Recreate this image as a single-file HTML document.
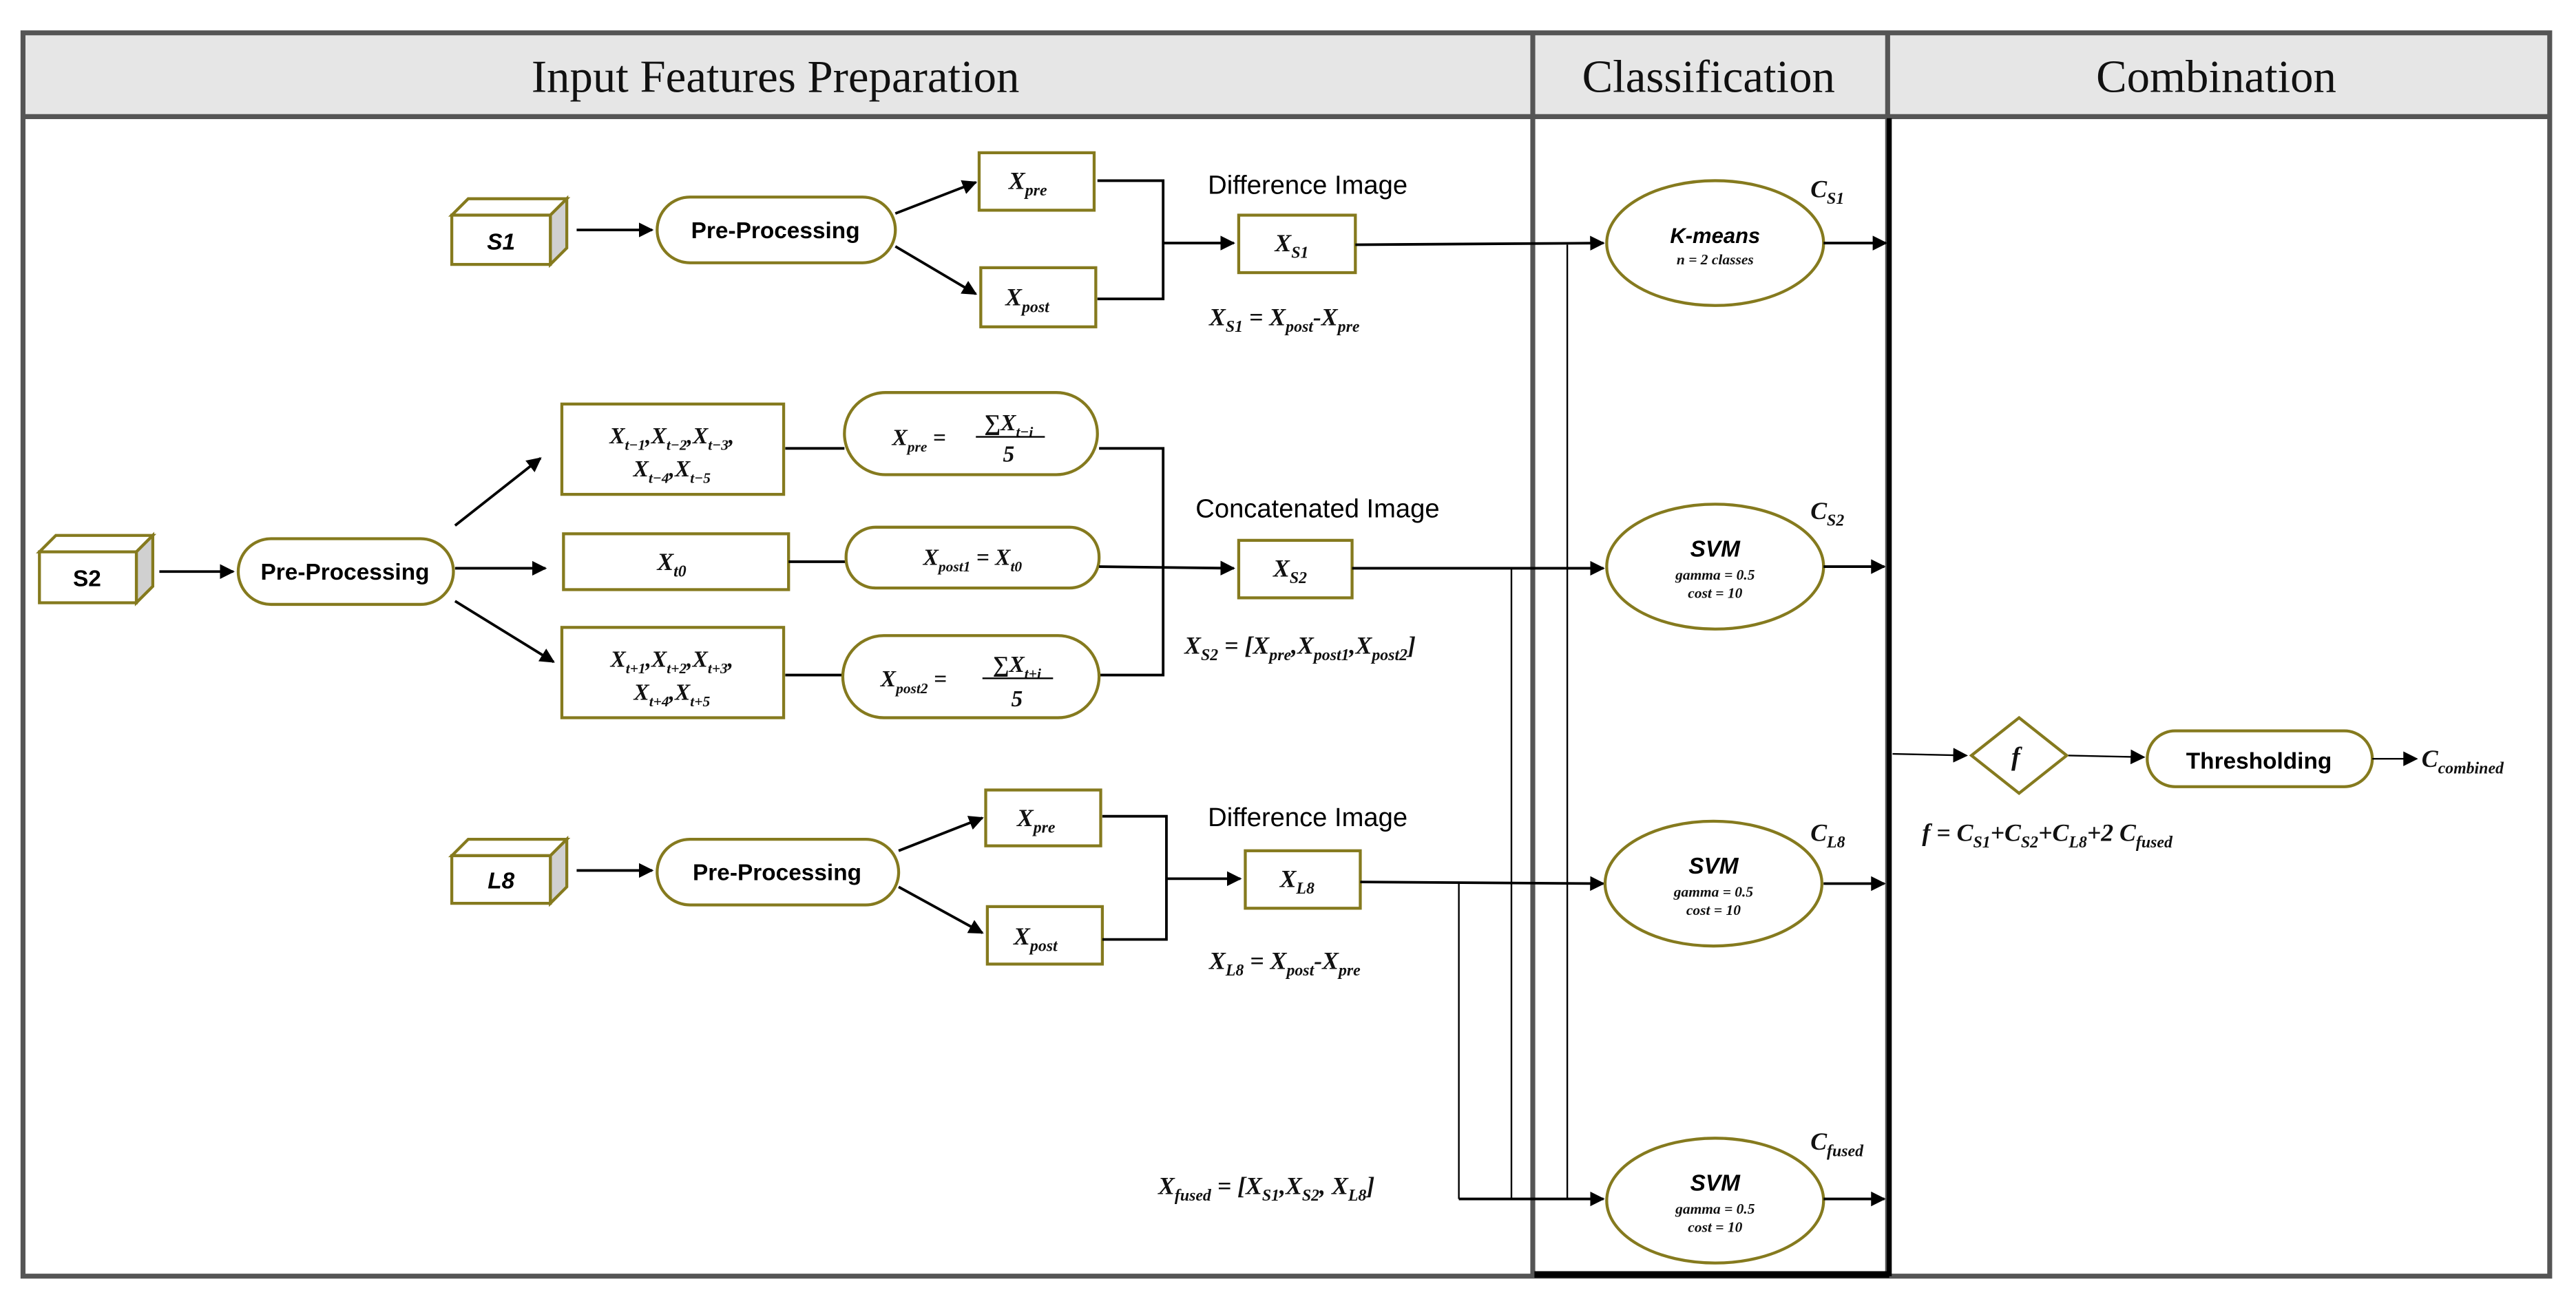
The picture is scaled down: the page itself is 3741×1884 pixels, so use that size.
<!DOCTYPE html>
<html><head><meta charset="utf-8"><style>
html,body{margin:0;padding:0;background:#fff;}
svg{display:block;}
.h{font-family:"Liberation Serif",serif;font-size:28px;fill:#111;}
.s{font-family:"Liberation Sans",sans-serif;}
.m{font-family:"Liberation Serif",serif;font-style:italic;font-weight:bold;fill:#111;}
.ol{fill:#fff;stroke:#857a1e;stroke-width:1.8;}
.ln{stroke:#000;stroke-width:1.6;fill:none;}
.thin{stroke:#000;stroke-width:1;fill:none;}
</style></head><body>
<svg width="3741" height="1884" viewBox="0 0 1568 789.7" preserveAspectRatio="none" xmlns="http://www.w3.org/2000/svg">
<defs>
<marker id="a" viewBox="0 0 10 10" refX="9" refY="5" markerWidth="6" markerHeight="6" orient="auto"><path d="M0,0 L10,5 L0,10 z" fill="#000"/></marker>
<marker id="b" viewBox="0 0 10 10" refX="9" refY="5" markerWidth="9" markerHeight="9" orient="auto" markerUnits="userSpaceOnUse"><path d="M0,0 L10,5 L0,10 z" fill="#000"/></marker>
</defs>
<rect x="14" y="20" width="1538" height="51" fill="#e6e6e6"/>
<rect x="14" y="20" width="1538" height="757" fill="none" stroke="#555" stroke-width="3"/>
<line x1="14" y1="71" x2="1552" y2="71" stroke="#555" stroke-width="3"/>
<line x1="933" y1="20" x2="933" y2="777" stroke="#555" stroke-width="3"/>
<line x1="1149" y1="20" x2="1149" y2="777" stroke="#555" stroke-width="3"/>
<line x1="1150" y1="72" x2="1150" y2="777" stroke="#000" stroke-width="3"/>
<line x1="934" y1="776" x2="1150" y2="776" stroke="#000" stroke-width="4"/>
<text class="h" x="472" y="56" text-anchor="middle">Input Features Preparation</text>
<text class="h" x="1040" y="56" text-anchor="middle">Classification</text>
<text class="h" x="1349" y="56" text-anchor="middle">Combination</text>

<g>
<path d="M275,131 L285,121 L345,121 L335,131 Z" class="ol"/>
<path d="M335,131 L345,121 L345,151 L335,161 Z" fill="#d0d0d0" stroke="#857a1e" stroke-width="1.8"/>
<rect x="275" y="131" width="60" height="30" class="ol"/>
<text class="s" x="305" y="152" font-size="14" font-weight="bold" font-style="italic" text-anchor="middle">S1</text>
</g>
<g>
<path d="M24,336 L34,326 L93,326 L83,336 Z" class="ol"/>
<path d="M83,336 L93,326 L93,357 L83,367 Z" fill="#d0d0d0" stroke="#857a1e" stroke-width="1.8"/>
<rect x="24" y="336" width="59" height="31" class="ol"/>
<text class="s" x="53" y="357" font-size="14" font-weight="bold" text-anchor="middle">S2</text>
</g>
<g>
<path d="M275,521 L285,511 L345,511 L335,521 Z" class="ol"/>
<path d="M335,521 L345,511 L345,540 L335,550 Z" fill="#d0d0d0" stroke="#857a1e" stroke-width="1.8"/>
<rect x="275" y="521" width="60" height="29" class="ol"/>
<text class="s" x="305" y="541" font-size="14" font-weight="bold" font-style="italic" text-anchor="middle">L8</text>
</g>

<line class="ln" x1="351" y1="140" x2="397" y2="140" marker-end="url(#b)"/>
<rect x="400" y="120" width="145" height="40" rx="20" class="ol"/>
<text class="s" x="472" y="145" font-size="14" font-weight="bold" text-anchor="middle">Pre-Processing</text>
<line class="ln" x1="545" y1="130" x2="594" y2="111" marker-end="url(#b)"/>
<line class="ln" x1="545" y1="150" x2="594" y2="179" marker-end="url(#b)"/>
<rect x="596" y="93" width="70" height="35" class="ol"/>
<text class="m" x="614" y="115" font-size="15">X<tspan font-size="10" dy="4">pre</tspan></text>
<rect x="597" y="163" width="70" height="36" class="ol"/>
<text class="m" x="612" y="186" font-size="15">X<tspan font-size="10" dy="4">post</tspan></text>
<path class="ln" d="M668,110 H708 V182 H668"/>
<line class="ln" x1="708" y1="148" x2="751" y2="148" marker-end="url(#b)"/>
<rect x="754" y="131" width="71" height="35" class="ol"/>
<text class="m" x="776" y="153" font-size="15">X<tspan font-size="10" dy="4">S1</tspan></text>
<text class="s" x="796" y="118" font-size="16" text-anchor="middle">Difference Image</text>
<text class="m" x="736" y="198" font-size="15">X<tspan font-size="10" dy="4">S1</tspan><tspan dy="-4"> = X</tspan><tspan font-size="10" dy="4">post</tspan><tspan dy="-4">-X</tspan><tspan font-size="10" dy="4">pre</tspan></text>

<line class="ln" x1="97" y1="348" x2="142" y2="348" marker-end="url(#b)"/>
<rect x="145" y="328" width="131" height="40" rx="20" class="ol"/>
<text class="s" x="210" y="353" font-size="14" font-weight="bold" text-anchor="middle">Pre-Processing</text>
<line class="ln" x1="277" y1="320" x2="329" y2="279" marker-end="url(#b)"/>
<line class="ln" x1="277" y1="346" x2="332" y2="346" marker-end="url(#b)"/>
<line class="ln" x1="277" y1="366" x2="337" y2="403" marker-end="url(#b)"/>
<rect x="342" y="246" width="135" height="55" class="ol"/>
<text class="m" x="409" y="270" font-size="14" text-anchor="middle">X<tspan font-size="9" dy="4">t−1</tspan><tspan dy="-4">,X</tspan><tspan font-size="9" dy="4">t−2</tspan><tspan dy="-4">,X</tspan><tspan font-size="9" dy="4">t−3</tspan><tspan dy="-4">,</tspan></text>
<text class="m" x="409" y="290" font-size="14" text-anchor="middle">X<tspan font-size="9" dy="4">t−4</tspan><tspan dy="-4">,X</tspan><tspan font-size="9" dy="4">t−5</tspan></text>
<line class="ln" x1="478" y1="273" x2="514" y2="273"/>
<rect x="514" y="239" width="154" height="50" rx="25" class="ol"/>
<text class="m" x="543" y="271" font-size="14">X<tspan font-size="9" dy="4">pre</tspan><tspan dy="-4"> =</tspan></text>
<text class="m" x="614" y="262" font-size="14" text-anchor="middle">∑X<tspan font-size="9" dy="4">t−i</tspan></text>
<line x1="594" y1="266" x2="636" y2="266" stroke="#000" stroke-width="1"/>
<text class="m" x="614" y="281" font-size="14" text-anchor="middle">5</text>
<path class="ln" d="M669,273 H708 V411 H669"/>

<rect x="343" y="325" width="137" height="34" class="ol"/>
<text class="m" x="400" y="347" font-size="15">X<tspan font-size="10" dy="4">t0</tspan></text>
<line class="ln" x1="480" y1="342" x2="515" y2="342"/>
<rect x="515" y="321" width="154" height="37" rx="18" class="ol"/>
<text class="m" x="592" y="344" font-size="14" text-anchor="middle">X<tspan font-size="9" dy="4">post1</tspan><tspan dy="-4"> = X</tspan><tspan font-size="9" dy="4">t0</tspan></text>
<line class="ln" x1="669" y1="345" x2="751" y2="346" marker-end="url(#b)"/>
<rect x="754" y="329" width="69" height="35" class="ol"/>
<text class="m" x="775" y="351" font-size="15">X<tspan font-size="10" dy="4">S2</tspan></text>
<text class="s" x="802" y="315" font-size="16" text-anchor="middle">Concatenated  Image</text>

<rect x="342" y="382" width="135" height="55" class="ol"/>
<text class="m" x="409" y="406" font-size="14" text-anchor="middle">X<tspan font-size="9" dy="4">t+1</tspan><tspan dy="-4">,X</tspan><tspan font-size="9" dy="4">t+2</tspan><tspan dy="-4">,X</tspan><tspan font-size="9" dy="4">t+3</tspan><tspan dy="-4">,</tspan></text>
<text class="m" x="409" y="426" font-size="14" text-anchor="middle">X<tspan font-size="9" dy="4">t+4</tspan><tspan dy="-4">,X</tspan><tspan font-size="9" dy="4">t+5</tspan></text>
<line class="ln" x1="478" y1="411" x2="513" y2="411"/>
<rect x="513" y="387" width="156" height="50" rx="25" class="ol"/>
<text class="m" x="536" y="418" font-size="14">X<tspan font-size="9" dy="4">post2</tspan><tspan dy="-4"> =</tspan></text>
<text class="m" x="619" y="409" font-size="14" text-anchor="middle">∑X<tspan font-size="9" dy="4">t+i</tspan></text>
<line x1="598" y1="413" x2="641" y2="413" stroke="#000" stroke-width="1"/>
<text class="m" x="619" y="430" font-size="14" text-anchor="middle">5</text>
<text class="m" x="721" y="398" font-size="15">X<tspan font-size="10" dy="4">S2</tspan><tspan dy="-4"> = [X</tspan><tspan font-size="10" dy="4">pre</tspan><tspan dy="-4">,X</tspan><tspan font-size="10" dy="4">post1</tspan><tspan dy="-4">,X</tspan><tspan font-size="10" dy="4">post2</tspan><tspan dy="-4">]</tspan></text>

<line class="ln" x1="351" y1="530" x2="397" y2="530" marker-end="url(#b)"/>
<rect x="400" y="511" width="147" height="40" rx="20" class="ol"/>
<text class="s" x="473" y="536" font-size="14" font-weight="bold" text-anchor="middle">Pre-Processing</text>
<line class="ln" x1="547" y1="518" x2="598" y2="498" marker-end="url(#b)"/>
<line class="ln" x1="547" y1="540" x2="598" y2="568" marker-end="url(#b)"/>
<rect x="600" y="481" width="70" height="34" class="ol"/>
<text class="m" x="619" y="503" font-size="15">X<tspan font-size="10" dy="4">pre</tspan></text>
<rect x="601" y="552" width="70" height="35" class="ol"/>
<text class="m" x="617" y="575" font-size="15">X<tspan font-size="10" dy="4">post</tspan></text>
<path class="ln" d="M671,497 H710 V572 H671"/>
<line class="ln" x1="710" y1="535" x2="755" y2="535" marker-end="url(#b)"/>
<rect x="758" y="518" width="70" height="35" class="ol"/>
<text class="m" x="779" y="540" font-size="15">X<tspan font-size="10" dy="4">L8</tspan></text>
<text class="s" x="796" y="503" font-size="16" text-anchor="middle">Difference Image</text>
<text class="m" x="736" y="590" font-size="15">X<tspan font-size="10" dy="4">L8</tspan><tspan dy="-4"> = X</tspan><tspan font-size="10" dy="4">post</tspan><tspan dy="-4">-X</tspan><tspan font-size="10" dy="4">pre</tspan></text>

<text class="m" x="705" y="727" font-size="15">X<tspan font-size="10" dy="4">fused</tspan><tspan dy="-4"> = [X</tspan><tspan font-size="10" dy="4">S1</tspan><tspan dy="-4">,X</tspan><tspan font-size="10" dy="4">S2</tspan><tspan dy="-4">, X</tspan><tspan font-size="10" dy="4">L8</tspan><tspan dy="-4">]</tspan></text>
<line class="thin" x1="954" y1="149" x2="954" y2="730"/>
<line class="thin" x1="920" y1="346" x2="920" y2="730"/>
<line class="thin" x1="888" y1="537" x2="888" y2="730"/>
<line class="ln" x1="888" y1="730" x2="976" y2="730" marker-end="url(#b)"/>

<line class="ln" x1="825" y1="149" x2="976" y2="148" marker-end="url(#b)"/>
<line class="ln" x1="823" y1="346" x2="976" y2="346" marker-end="url(#b)"/>
<line class="ln" x1="828" y1="537" x2="976" y2="538" marker-end="url(#b)"/>

<ellipse cx="1044" cy="148" rx="66" ry="38" class="ol"/>
<text class="s" x="1044" y="148" font-size="13" font-weight="bold" font-style="italic" text-anchor="middle">K-means</text>
<text class="m" x="1044" y="161" font-size="9" text-anchor="middle">n = 2 classes</text>
<ellipse cx="1044" cy="345" rx="66" ry="38" class="ol"/>
<text class="s" x="1044" y="339" font-size="14" font-weight="bold" font-style="italic" text-anchor="middle">SVM</text>
<text class="m" x="1044" y="353" font-size="9" text-anchor="middle">gamma = 0.5</text>
<text class="m" x="1044" y="364" font-size="9" text-anchor="middle">cost = 10</text>
<ellipse cx="1043" cy="538" rx="66" ry="38" class="ol"/>
<text class="s" x="1043" y="532" font-size="14" font-weight="bold" font-style="italic" text-anchor="middle">SVM</text>
<text class="m" x="1043" y="546" font-size="9" text-anchor="middle">gamma = 0.5</text>
<text class="m" x="1043" y="557" font-size="9" text-anchor="middle">cost = 10</text>
<ellipse cx="1044" cy="731" rx="66" ry="38" class="ol"/>
<text class="s" x="1044" y="725" font-size="14" font-weight="bold" font-style="italic" text-anchor="middle">SVM</text>
<text class="m" x="1044" y="739" font-size="9" text-anchor="middle">gamma = 0.5</text>
<text class="m" x="1044" y="750" font-size="9" text-anchor="middle">cost = 10</text>

<line class="ln" x1="1110" y1="148" x2="1148" y2="148" marker-end="url(#b)"/>
<line class="ln" x1="1110" y1="345" x2="1147" y2="345" marker-end="url(#b)"/>
<line class="ln" x1="1110" y1="538" x2="1147" y2="538" marker-end="url(#b)"/>
<line class="ln" x1="1110" y1="730" x2="1147" y2="730" marker-end="url(#b)"/>
<text class="m" x="1102" y="120" font-size="15">C<tspan font-size="10" dy="4">S1</tspan></text>
<text class="m" x="1102" y="316" font-size="15">C<tspan font-size="10" dy="4">S2</tspan></text>
<text class="m" x="1102" y="512" font-size="15">C<tspan font-size="10" dy="4">L8</tspan></text>
<text class="m" x="1102" y="700" font-size="15">C<tspan font-size="10" dy="4">fused</tspan></text>

<line class="thin" x1="1152" y1="459" x2="1197" y2="460" marker-end="url(#b)"/>
<path d="M1229,437 L1258,460 L1229,483 L1200,460 Z" class="ol"/>
<text class="m" x="1227" y="466" font-size="16" text-anchor="middle">f</text>
<line class="thin" x1="1259" y1="460" x2="1305" y2="461" marker-end="url(#b)"/>
<rect x="1307" y="445" width="137" height="34" rx="17" class="ol"/>
<text class="s" x="1375" y="468" font-size="14" font-weight="bold" text-anchor="middle">Thresholding</text>
<line class="thin" x1="1444" y1="462" x2="1471" y2="462" marker-end="url(#b)"/>
<text class="m" x="1474" y="467" font-size="15">C<tspan font-size="10" dy="4">combined</tspan></text>
<text class="m" x="1170" y="512" font-size="15">f = C<tspan font-size="10" dy="4">S1</tspan><tspan dy="-4">+C</tspan><tspan font-size="10" dy="4">S2</tspan><tspan dy="-4">+C</tspan><tspan font-size="10" dy="4">L8</tspan><tspan dy="-4">+2 C</tspan><tspan font-size="10" dy="4">fused</tspan></text>
</svg>
</body></html>
